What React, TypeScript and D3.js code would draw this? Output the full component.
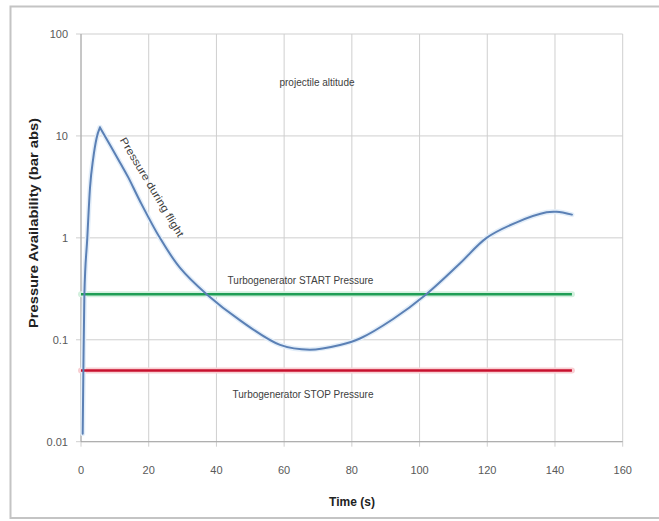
import React from 'react';
import * as d3 from 'd3';

// curve: time (s) vs pressure (bar abs)
const timeS = [0.5, 0.7, 1.0, 1.86, 2.66, 3.6, 4.6, 5.6, 11.5, 14, 17.4, 23.3, 29.2, 37.1, 47, 58.8, 67.6, 76.5, 82.4, 92.2, 102, 111.9, 119.8, 128.7, 137.5, 140.5, 145];
const pressure = [0.012, 0.05, 0.28, 1.0, 3.1, 6.0, 9.5, 12.1, 5.5, 3.9, 2.3, 1.0, 0.51, 0.28, 0.155, 0.089, 0.08, 0.089, 0.103, 0.16, 0.28, 0.56, 1.0, 1.42, 1.78, 1.8, 1.69];

const startPressure = 0.28;
const stopPressure = 0.05;
const thresholdSpan = [0, 145];

const xTicks = [0, 20, 40, 60, 80, 100, 120, 140, 160];
const yTicks = [0.01, 0.1, 1, 10, 100];
const yTickLabels = ['0.01', '0.1', '1', '10', '100'];

const W = 659;
const H = 521;
const margin = { top: 34, right: 36.3, bottom: 79.3, left: 81 };
const FONT = '"Liberation Sans", Arial, sans-serif';

const App = () => {
  const x = d3.scaleLinear()
    .domain([0, 160])
    .range([margin.left, W - margin.right]);

  const y = d3.scaleLog()
    .domain([0.01, 100])
    .range([H - margin.bottom, margin.top]);

  const pts: [number, number][] = timeS.map((t, i) => [t, pressure[i]]);
  const peak = pressure.indexOf(d3.max(pressure) as number);

  const riseLine = d3.line<[number, number]>()
    .x(d => x(d[0]))
    .y(d => y(d[1]))
    .curve(d3.curveMonotoneX);
  const fallLine = d3.line<[number, number]>()
    .x(d => x(d[0]))
    .y(d => y(d[1]))
    .curve(d3.curveCatmullRom.alpha(0.5));

  // split at the peak so the top stays sharp
  const rising = riseLine(pts.slice(0, peak + 1)) || '';
  const falling = fallLine(pts.slice(peak)) || '';

  const x0 = x.range()[0], x1 = x.range()[1];
  const y0 = y.range()[0], y1 = y.range()[1];

  const hLine = (v: number) => `M${x(thresholdSpan[0])},${y(v)}H${x(thresholdSpan[1])}`;

  return (
    <svg width={W} height={H} style={{ position: 'absolute', left: 0, top: 0, background: '#fff' }} fontFamily={FONT}>
      {/* outer frame */}
      <path d={`M${W + 5},6.5H10.5V518H${W + 5}`} fill="none" stroke="#c4c4c4" strokeWidth={2} />

      {/* grid */}
      <g stroke="#cfcfcf" strokeWidth={1}>
        {xTicks.map(t => (
          <line key={'gx' + t} x1={x(t)} x2={x(t)} y1={y1} y2={y0 + 5} />
        ))}
        {yTicks.map(t => (
          <line key={'gy' + t} x1={x0 - 5} x2={x1} y1={y(t)} y2={y(t)} />
        ))}
      </g>
      <g stroke="#a6a6a6" strokeWidth={1}>
        <line x1={x0} x2={x0} y1={y1} y2={y0} />
        <line x1={x0} x2={x1} y1={y0} y2={y0} />
      </g>

      {/* tick labels */}
      <g fontSize={11} fill="#595959">
        {yTicks.map((t, i) => (
          <text key={'ly' + t} x={x0 - 13} y={y(t)} dy="0.35em" textAnchor="end">{yTickLabels[i]}</text>
        ))}
        {xTicks.map(t => (
          <text key={'lx' + t} x={x(t)} y={y0 + 28} dy="0.35em" textAnchor="middle">{t}</text>
        ))}
      </g>

      {/* axis titles */}
      <text x={352} y={502} dy="0.35em" textAnchor="middle" fontWeight="bold" fontSize={12} fill="#222">Time (s)</text>
      <text transform="translate(34,223) rotate(-90)" dy="0.35em" textAnchor="middle" fontWeight="bold" fontSize={12.5}
        textLength={210} lengthAdjust="spacingAndGlyphs" fill="#222">Pressure Availability (bar abs)</text>

      {/* soft halos under the lines */}
      <g fill="none" strokeLinejoin="round" strokeLinecap="round">
        <path d={hLine(startPressure)} stroke="#d3f0de" strokeWidth={6} />
        <path d={hLine(stopPressure)} stroke="#f8d0d4" strokeWidth={6} />
        <path d={rising} stroke="#e3eef9" strokeWidth={5} />
        <path d={falling} stroke="#e3eef9" strokeWidth={5} />
      </g>

      {/* threshold lines */}
      <path d={hLine(startPressure)} stroke="#1f9e55" strokeWidth={2.6} fill="none" />
      <path d={hLine(stopPressure)} stroke="#c8102e" strokeWidth={2.6} fill="none" />

      {/* pressure curve */}
      <g fill="none" strokeLinejoin="round" strokeLinecap="round" stroke="#5b80b5" strokeWidth={2}>
        <path d={rising} />
        <path d={falling} />
      </g>

      {/* annotations */}
      <g fontSize={10} fill="#404040">
        <text x={317} y={82} dy="0.35em" textAnchor="middle">projectile altitude</text>
        <text x={300.5} y={280} dy="0.35em" textAnchor="middle">Turbogenerator START Pressure</text>
        <text x={303} y={394} dy="0.35em" textAnchor="middle">Turbogenerator STOP Pressure</text>
        <text transform="translate(152,187) rotate(59)" dy="0.35em" textAnchor="middle" fontSize={10.5}
          textLength={114} lengthAdjust="spacingAndGlyphs">Pressure during flight</text>
      </g>
    </svg>
  );
};

export default App;
